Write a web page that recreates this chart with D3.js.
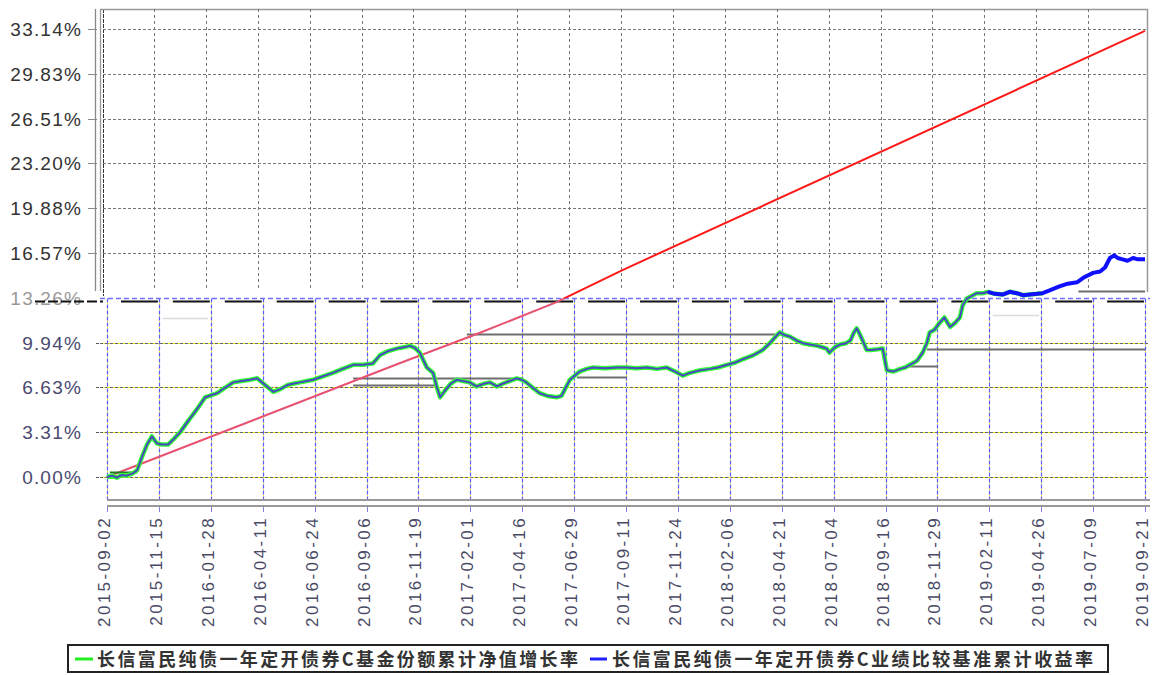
<!DOCTYPE html>
<html><head><meta charset="utf-8">
<script src="https://cdn.jsdelivr.net/npm/d3@7"></script>
<style>html,body{margin:0;padding:0;background:#fff;}svg{display:block;}</style>
</head><body>
<svg id="chart" width="1156" height="675"></svg>
<script>
// ---- data ----
const xTickLabels = ["2015-09-02","2015-11-15","2016-01-28","2016-04-11","2016-06-24","2016-09-06","2016-11-19","2017-02-01","2017-04-16","2017-06-29","2017-09-11","2017-11-24","2018-02-06","2018-04-21","2018-07-04","2018-09-16","2018-11-29","2019-02-11","2019-04-26","2019-07-09","2019-09-21"];
const yTickValues = [0, 3.314, 6.628, 9.942, 13.256, 16.57, 19.884, 23.198, 26.512, 29.826, 33.14];
const yTickLabels = ["0.00%","3.31%","6.63%","9.94%","13.26%","16.57%","19.88%","23.20%","26.51%","29.83%","33.14%"];

const fundDates = ["2015-09-02","2015-09-09","2015-09-16","2015-09-23","2015-09-30","2015-10-08","2015-10-15","2015-10-22","2015-10-29","2015-11-05","2015-11-12","2015-11-19","2015-11-28","2015-12-06","2015-12-15","2015-12-26","2016-01-08","2016-01-20","2016-01-31","2016-02-06","2016-02-17","2016-02-29","2016-03-12","2016-03-24","2016-04-03","2016-04-10","2016-04-17","2016-04-26","2016-05-06","2016-05-16","2016-05-24","2016-06-03","2016-06-13","2016-06-22","2016-07-06","2016-07-20","2016-08-03","2016-08-18","2016-09-01","2016-09-15","2016-09-25","2016-10-06","2016-10-19","2016-10-29","2016-11-07","2016-11-14","2016-11-21","2016-12-01","2016-12-10","2016-12-15","2016-12-20","2016-12-27","2017-01-04","2017-01-13","2017-01-21","2017-01-31","2017-02-10","2017-02-20","2017-03-01","2017-03-11","2017-03-19","2017-03-29","2017-04-08","2017-04-15","2017-04-22","2017-05-01","2017-05-11","2017-05-22","2017-06-04","2017-06-11","2017-06-17","2017-06-23","2017-06-30","2017-07-07","2017-07-17","2017-07-26","2017-08-12","2017-08-29","2017-09-12","2017-09-26","2017-10-11","2017-10-25","2017-11-08","2017-11-20","2017-12-01","2017-12-11","2017-12-26","2018-01-09","2018-01-20","2018-02-02","2018-02-13","2018-02-24","2018-03-11","2018-03-25","2018-04-04","2018-04-11","2018-04-18","2018-04-25","2018-05-02","2018-05-12","2018-05-21","2018-05-31","2018-06-11","2018-06-18","2018-06-24","2018-06-28","2018-07-06","2018-07-13","2018-07-22","2018-07-28","2018-08-02","2018-08-06","2018-08-10","2018-08-16","2018-08-20","2018-08-27","2018-09-05","2018-09-12","2018-09-18","2018-09-27","2018-10-07","2018-10-14","2018-10-21","2018-10-31","2018-11-08","2018-11-14","2018-11-18","2018-11-25","2018-12-02","2018-12-09","2018-12-17","2018-12-24","2018-12-31","2019-01-04","2019-01-10","2019-01-17","2019-01-24","2019-02-02","2019-02-09","2019-02-19","2019-03-02","2019-03-12","2019-03-22","2019-03-31","2019-04-10","2019-04-20","2019-04-28"];
const fundValues = [0.00,0.10,-0.05,0.15,0.10,0.25,0.50,1.50,2.40,3.00,2.50,2.40,2.40,2.80,3.30,4.10,5.00,5.90,6.10,6.20,6.60,7.00,7.10,7.20,7.30,7.00,6.70,6.30,6.50,6.80,6.90,7.00,7.10,7.20,7.45,7.70,8.00,8.30,8.30,8.40,9.00,9.30,9.50,9.60,9.70,9.55,9.20,8.10,7.70,6.70,5.90,6.40,6.90,7.20,7.10,7.00,6.70,6.90,7.00,6.70,6.90,7.10,7.30,7.20,7.00,6.60,6.20,6.00,5.90,6.00,6.60,7.20,7.50,7.80,8.00,8.10,8.05,8.10,8.10,8.05,8.10,8.00,8.10,7.80,7.50,7.70,7.90,8.00,8.10,8.30,8.45,8.70,9.00,9.40,9.90,10.30,10.70,10.50,10.40,10.10,9.90,9.80,9.70,9.60,9.50,9.20,9.60,9.80,9.90,10.10,10.70,11.00,10.60,9.90,9.40,9.40,9.45,9.50,7.90,7.80,8.00,8.10,8.30,8.60,9.20,9.90,10.70,10.90,11.40,11.80,11.10,11.40,11.80,12.70,13.20,13.40,13.60,13.60,13.70,13.55,13.50,13.70,13.60,13.45,13.50,13.55,13.60];

const benchExtraDates = ["2019-05-08","2019-05-22","2019-06-03","2019-06-16","2019-06-27","2019-07-09","2019-07-19","2019-07-26","2019-08-02","2019-08-08","2019-08-13","2019-08-20","2019-08-27","2019-09-04","2019-09-11","2019-09-21"];
const benchExtraValues = [13.80,14.10,14.30,14.40,14.80,15.10,15.20,15.50,16.20,16.40,16.20,16.10,16.00,16.20,16.10,16.10];
const benchBrightFrom = "2019-02-09";

const redDates = ["2015-09-02","2016-10-24","2017-02-14","2017-06-04","2017-09-06","2019-09-21"];
const redValues = [0.00, 8.43, 10.65, 12.94, 15.31, 33.00];

// stray horizontal segments visible in the picture: [start, end, value]
const graySegStart = ["2017-01-27","2016-08-18","2016-08-18","2017-07-03","2018-11-14","2018-10-14","2019-06-18"];
const graySegEnd   = ["2018-04-18","2017-04-16","2016-12-15","2017-09-12","2019-09-21","2018-11-30","2019-09-21"];
const graySegValue = [10.58, 7.32, 6.80, 7.40, 9.47, 8.21, 13.76];
const lightSegStart = ["2015-11-20","2019-02-16"];
const lightSegEnd   = ["2016-01-24","2019-04-23"];
const lightSegValue = [11.76, 11.98];
const greenSegStart = ["2015-09-06"], greenSegEnd = ["2015-10-15"], greenSegValue = [0.35];

const legendLabels = ["长信富民纯债一年定开债券C基金份额累计净值增长率","长信富民纯债一年定开债券C业绩比较基准累计收益率"];

// ---- drawing ----
const parse = d3.timeParse("%Y-%m-%d");
const svg = d3.select("#chart");
const x = d3.scaleTime().domain([parse(xTickLabels[0]), parse(xTickLabels[xTickLabels.length-1])]).range([107, 1145]);
const y = d3.scaleLinear().domain([-1.7, 34.62]).range([500, 9]);
const px = v => Math.round(v) + 0.5;
const splitY = px(y(13.256));
const font = "'Liberation Sans', Arial, sans-serif";
const xTicks = xTickLabels.map(parse);

// upper frame
const g = svg.append("g");
g.append("line").attr("x1",95.5).attr("x2",95.5).attr("y1",9).attr("y2",291).attr("stroke","#888").attr("stroke-width",1.3);
g.append("line").attr("x1",100.5).attr("x2",100.5).attr("y1",9).attr("y2",291).attr("stroke","#999").attr("stroke-width",1.3);
g.append("line").attr("x1",103.5).attr("x2",103.5).attr("y1",9).attr("y2",296).attr("stroke","#333").attr("stroke-width",1).attr("stroke-dasharray","4,1");
g.append("line").attr("x1",100).attr("x2",1148).attr("y1",9.5).attr("y2",9.5).attr("stroke","#999").attr("stroke-width",1.5);
g.append("line").attr("x1",1147.5).attr("x2",1147.5).attr("y1",9).attr("y2",292).attr("stroke","#999").attr("stroke-width",1.5);

// upper grid
const upperVals = yTickValues.filter(v => v > 14);
g.selectAll(".hgU").data(upperVals).join("line")
  .attr("x1",103).attr("x2",1148).attr("y1",d=>px(y(d))).attr("y2",d=>px(y(d)))
  .attr("stroke","#777").attr("stroke-width",1).attr("stroke-dasharray","3,2");
g.selectAll(".vgU").data(xTicks.slice(1,20)).join("line")
  .attr("x1",d=>px(x(d)-5)).attr("x2",d=>px(x(d)-5)).attr("y1",9).attr("y2",291)
  .attr("stroke","#777").attr("stroke-width",1).attr("stroke-dasharray","3,3");
g.selectAll(".ytU").data(upperVals).join("line")
  .attr("x1",88).attr("x2",97).attr("y1",d=>px(y(d))).attr("y2",d=>px(y(d))).attr("stroke","#888");

// lower grid
const lowerVals = yTickValues.filter(v => v < 12);
g.selectAll(".hgLy").data(lowerVals).join("line")
  .attr("x1",100).attr("x2",1148).attr("y1",d=>px(y(d))).attr("y2",d=>px(y(d)))
  .attr("stroke","#e8e820").attr("stroke-width",1).attr("stroke-dasharray","3,2").attr("stroke-dashoffset",3);
g.selectAll(".hgL").data(lowerVals).join("line")
  .attr("x1",100).attr("x2",1148).attr("y1",d=>px(y(d))).attr("y2",d=>px(y(d)))
  .attr("stroke","#666").attr("stroke-width",1).attr("stroke-dasharray","3,2");
g.selectAll(".vgLy").data(xTicks).join("line")
  .attr("x1",d=>px(x(d))).attr("x2",d=>px(x(d))).attr("y1",splitY).attr("y2",500)
  .attr("stroke","#eeee40").attr("stroke-width",1).attr("stroke-dasharray","2,4").attr("stroke-dashoffset",-4);
g.selectAll(".vgL").data(xTicks).join("line")
  .attr("x1",d=>px(x(d))).attr("x2",d=>px(x(d))).attr("y1",splitY).attr("y2",500)
  .attr("stroke","#5a5aff").attr("stroke-width",1.2).attr("stroke-dasharray","4,2");
g.selectAll(".ytL").data(lowerVals).join("line")
  .attr("x1",96).attr("x2",99).attr("y1",d=>px(y(d))).attr("y2",d=>px(y(d))).attr("stroke","#555");

// split lines (blue dashed + black long dash)
g.append("line").attr("x1",100).attr("x2",1150).attr("y1",splitY).attr("y2",splitY)
  .attr("stroke","#7070ff").attr("stroke-width",1.5).attr("stroke-dasharray","5,3");
g.selectAll(".blk").data(xTicks.slice(0,20)).join("line")
  .attr("x1",(d,i)=>x(d)+14).attr("x2",(d,i)=>x(xTicks[i+1])-1)
  .attr("y1",splitY+3).attr("y2",splitY+3).attr("stroke","#111").attr("stroke-width",2.2);

// bottom axis lines
g.append("line").attr("x1",107).attr("x2",1150).attr("y1",500).attr("y2",500).attr("stroke","#999").attr("stroke-width",2);
g.append("line").attr("x1",107).attr("x2",1150).attr("y1",506).attr("y2",506).attr("stroke","#999").attr("stroke-width",2);
g.selectAll(".xt").data(xTicks).join("line")
  .attr("x1",d=>px(x(d))).attr("x2",d=>px(x(d))).attr("y1",507).attr("y2",512).attr("stroke","#8080e0").attr("stroke-width",1);

// y labels
g.selectAll(".ylab").data(yTickValues).join("text")
  .attr("x",82).attr("y",d=>y(d)+7).attr("text-anchor","end")
  .attr("font-family",font).attr("font-size",19).attr("letter-spacing",1.2)
  .attr("fill",d=> d>14 ? "#333" : (d>12 ? "#999" : "#4a4a70"))
  .text((d,i)=>yTickLabels[i]);
g.append("line").attr("x1",35).attr("x2",103).attr("y1",splitY+3).attr("y2",splitY+3).attr("stroke","#111").attr("stroke-width",2).attr("stroke-dasharray","10,3");

// x labels
g.selectAll(".xlab").data(xTicks).join("text")
  .attr("transform",d=>`translate(${x(d)+3},516) rotate(-90)`)
  .attr("text-anchor","end").attr("font-family",font).attr("font-size",17).attr("letter-spacing",2.4)
  .attr("fill","#4a4a66").text((d,i)=>xTickLabels[i]);

// stray segments
const segs = (s,e,v,color,w) => g.append("g").selectAll("line").data(v).join("line")
  .attr("x1",(d,i)=>x(parse(s[i]))).attr("x2",(d,i)=>x(parse(e[i])))
  .attr("y1",d=>px(y(d))).attr("y2",d=>px(y(d))).attr("stroke",color).attr("stroke-width",w);
segs(lightSegStart, lightSegEnd, lightSegValue, "#dcdcdc", 1.5);
segs(graySegStart, graySegEnd, graySegValue, "#6e6e6e", 2);

// red line
const line = d3.line().x(d=>x(d[0])).y(d=>y(d[1]));
const redData = redDates.map((d,i)=>[parse(d), redValues[i]]);
svg.append("clipPath").attr("id","up").append("rect").attr("x",0).attr("y",0).attr("width",1156).attr("height",splitY);
svg.append("clipPath").attr("id","lo").append("rect").attr("x",0).attr("y",splitY).attr("width",1156).attr("height",675);
g.append("path").datum(redData).attr("d",line).attr("fill","none").attr("stroke","#ff1a1a").attr("stroke-width",2).attr("clip-path","url(#up)");
g.append("path").datum(redData).attr("d",line).attr("fill","none").attr("stroke","#f0506a").attr("stroke-width",2).attr("clip-path","url(#lo)");
g.append("path").datum(redData).attr("d",line).attr("fill","none").attr("stroke","#7070d0").attr("stroke-width",1).attr("stroke-dasharray","1,6").attr("clip-path","url(#lo)");

// fund (green) and benchmark (blue)
const fundData = fundDates.map((d,i)=>[parse(d), fundValues[i]]);
const benchData = fundData.concat(benchExtraDates.map((d,i)=>[parse(d), benchExtraValues[i]]));
segs(greenSegStart, greenSegEnd, greenSegValue, "#1f7a1f", 2);
g.append("path").datum(fundData).attr("d",line).attr("fill","none").attr("stroke","#33ff33").attr("stroke-width",4.5).attr("stroke-linejoin","round");
g.append("path").datum(benchData).attr("d",line).attr("fill","none").attr("stroke","#4848c0").attr("stroke-width",2).attr("stroke-linejoin","round");
const bright = parse(benchBrightFrom);
g.append("path").datum(benchData.filter(d=>d[0]>=bright)).attr("d",line).attr("fill","none").attr("stroke","#1010ff").attr("stroke-width",4).attr("stroke-linejoin","round");

// legend
const lg = svg.append("g");
lg.append("rect").attr("x",68).attr("y",645).attr("width",1040).attr("height",27).attr("fill","#fff").attr("stroke","#222").attr("stroke-width",2);
lg.append("line").attr("x1",75).attr("x2",93).attr("y1",659).attr("y2",659).attr("stroke","#22ee22").attr("stroke-width",3);
lg.append("text").attr("x",97).attr("y",666).attr("font-family","'Noto Sans CJK SC', sans-serif").attr("font-weight","bold").attr("font-size",18).attr("letter-spacing",2.4).attr("fill","#333").text(legendLabels[0]);
lg.append("line").attr("x1",590).attr("x2",607).attr("y1",659).attr("y2",659).attr("stroke","#2020ff").attr("stroke-width",3);
lg.append("text").attr("x",612).attr("y",666).attr("font-family","'Noto Sans CJK SC', sans-serif").attr("font-weight","bold").attr("font-size",18).attr("letter-spacing",2.4).attr("fill","#333").text(legendLabels[1]);
</script>
</body></html>
